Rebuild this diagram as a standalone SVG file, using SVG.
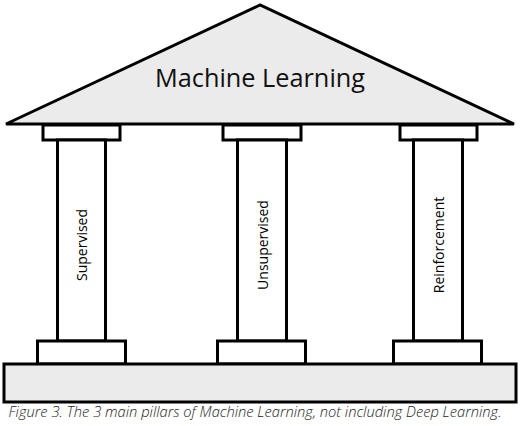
<svg xmlns="http://www.w3.org/2000/svg" width="520" height="426" viewBox="0 0 520 426">
<style>
.s{stroke:#000;stroke-width:3;stroke-linejoin:miter}
.g{fill:#ebebeb}
.w{fill:#fff}
.lbl{font-family:"Open Sans","Noto Sans",sans-serif;font-size:14px;fill:#000;text-anchor:middle;dominant-baseline:central}
</style>
<rect width="520" height="426" fill="#fff"/>
<g id="roof">
<polygon class="s g" points="260,5 6,124 514,124"/>
<text x="260" y="87" font-family="'Open Sans','Noto Sans',sans-serif" font-size="25.3" text-anchor="middle" fill="#111">Machine Learning</text>
</g>
<g id="pillar-supervised">
<rect class="s w" x="43" y="125" width="77" height="15"/>
<rect class="s w" x="57.5" y="140" width="48" height="201"/>
<rect class="s w" x="37.5" y="341" width="88" height="23"/>
<text class="lbl" transform="translate(81.5,245) rotate(-90)">Supervised</text>
</g>
<g id="pillar-unsupervised">
<rect class="s w" x="223" y="125" width="78" height="15"/>
<rect class="s w" x="237.5" y="140" width="49" height="201"/>
<rect class="s w" x="217.5" y="341" width="88" height="23"/>
<text class="lbl" transform="translate(262,245) rotate(-90)">Unsupervised</text>
</g>
<g id="pillar-reinforcement">
<rect class="s w" x="400" y="125" width="77" height="15"/>
<rect class="s w" x="413.5" y="140" width="49" height="201"/>
<rect class="s w" x="393.5" y="341" width="88" height="23"/>
<text class="lbl" transform="translate(438,245) rotate(-90)">Reinforcement</text>
</g>
<g id="platform">
<rect class="s g" x="4" y="364" width="512" height="38"/>
</g>
<g id="connectors"></g>
<text x="255" y="417" font-family="'Open Sans','Noto Sans',sans-serif" font-size="14.7" font-style="italic" font-weight="300" text-anchor="middle" fill="#222">Figure 3. The 3 main pillars of Machine Learning, not including Deep Learning.</text>
</svg>
